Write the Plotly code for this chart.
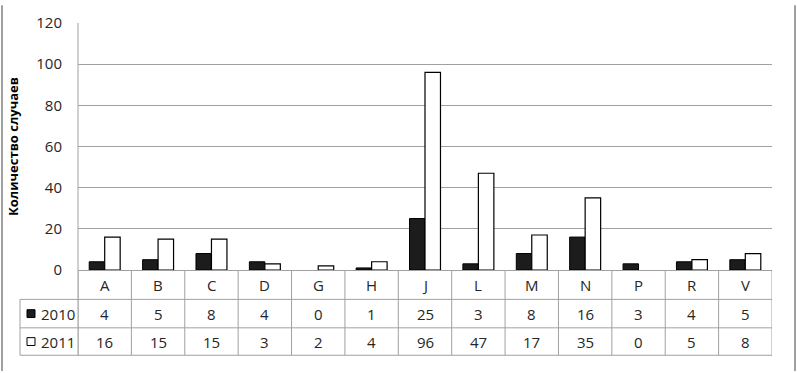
import plotly.graph_objects as go

categories = ["A", "B", "C", "D", "G", "H", "J", "L", "M", "N", "P", "R", "V"]
values_2010 = [4, 5, 8, 4, 0, 1, 25, 3, 8, 16, 3, 4, 5]
values_2011 = [16, 15, 15, 3, 2, 4, 96, 47, 17, 35, 0, 5, 8]
series_names = ["2010", "2011"]
y_ticks = [0, 20, 40, 60, 80, 100, 120]
y_title = "Количество случаев"

W, H = 797, 373
L, R, T, B = 78, 772, 18, 270  # plot area in px

def px(x):
    return (x - L) / (R - L)

def py(y):
    return (B - y) / (B - T)

FONT = "Open Sans"
GRID = "#a0a0a0"
TXT = "#262626"

fig = go.Figure()
fig.add_bar(x=categories, y=values_2010, name=series_names[0],
            marker=dict(color="#1c1c1c",
                        line=dict(color="#000000", width=[1 if v else 0 for v in values_2010])))
fig.add_bar(x=categories, y=values_2011, name=series_names[1],
            marker=dict(color="#ffffff",
                        line=dict(color="#000000", width=[1.2 if v else 0 for v in values_2011])))

shapes = []
annotations = []
n = len(categories)
row_y = [270, 300, 329, 357]

for i in range(n + 1):
    shapes.append(dict(type="line", xref="x", yref="paper", x0=i - 0.5, x1=i - 0.5,
                       y0=py(270), y1=py(357), line=dict(color=GRID, width=1)))
for yy in row_y[1:]:
    shapes.append(dict(type="line", xref="paper", yref="paper", x0=px(20), x1=px(R),
                       y0=py(yy), y1=py(yy), line=dict(color=GRID, width=1)))
shapes.append(dict(type="line", xref="paper", yref="paper", x0=px(20), x1=px(20),
                   y0=py(300), y1=py(357), line=dict(color=GRID, width=1)))
shapes.append(dict(type="line", xref="paper", yref="paper", x0=0, x1=0,
                   y0=py(T), y1=py(357), line=dict(color=GRID, width=1)))
shapes.append(dict(type="line", xref="paper", yref="paper", x0=px(2), x1=px(2),
                   y0=py(0), y1=py(373), line=dict(color="#808080", width=1.5)))
shapes.append(dict(type="line", xref="paper", yref="paper", x0=px(795), x1=px(795),
                   y0=py(0), y1=py(373), line=dict(color="#808080", width=1.5)))

cell_font = dict(family=FONT, size=15, color=TXT)
for i, c in enumerate(categories):
    annotations.append(dict(x=i, y=py(285), xref="x", yref="paper", text=c, showarrow=False,
                            xanchor="center", yanchor="middle", font=cell_font))
for row, vals in zip([314.5, 343], [values_2010, values_2011]):
    for i, v in enumerate(vals):
        annotations.append(dict(x=i, y=py(row), xref="x", yref="paper", text=str(v),
                                showarrow=False, xanchor="center", yanchor="middle",
                                font=cell_font))
for row, name, fill in zip([314.5, 343], series_names, ["#1c1c1c", "#ffffff"]):
    shapes.append(dict(type="rect", xref="paper", yref="paper", x0=px(27), x1=px(35),
                       y0=py(row - 4), y1=py(row + 4), fillcolor=fill,
                       line=dict(color="#000000", width=1)))
    annotations.append(dict(x=px(39), y=py(row), xref="paper", yref="paper", text=name,
                            xanchor="left", yanchor="middle", showarrow=False,
                            font=cell_font))

fig.update_layout(
    width=W, height=H, autosize=False,
    margin=dict(l=L, r=W - R, t=T, b=H - B, pad=0),
    paper_bgcolor="white", plot_bgcolor="white",
    barmode="group", bargap=0.42, bargroupgap=0,
    showlegend=False, hovermode=False,
    shapes=shapes, annotations=annotations,
    xaxis=dict(type="category", range=[-0.5, n - 0.5], showticklabels=False,
               showgrid=False, showline=True, linecolor=GRID, linewidth=1, ticks="",
               zeroline=False),
    yaxis=dict(range=[0, 120], tickvals=y_ticks, showgrid=True, gridcolor=GRID, gridwidth=1,
               showline=False, zeroline=False, ticks="", ticklabelstandoff=15,
               tickfont=dict(family=FONT, size=15, color=TXT),
               title=dict(text="<b>" + y_title + "</b>", standoff=14,
                          font=dict(family=FONT, size=13, color="#000000"))),
)

fig.write_html("out.html", config={"displayModeBar": False},
               post_script="document.body.style.margin='0';")
